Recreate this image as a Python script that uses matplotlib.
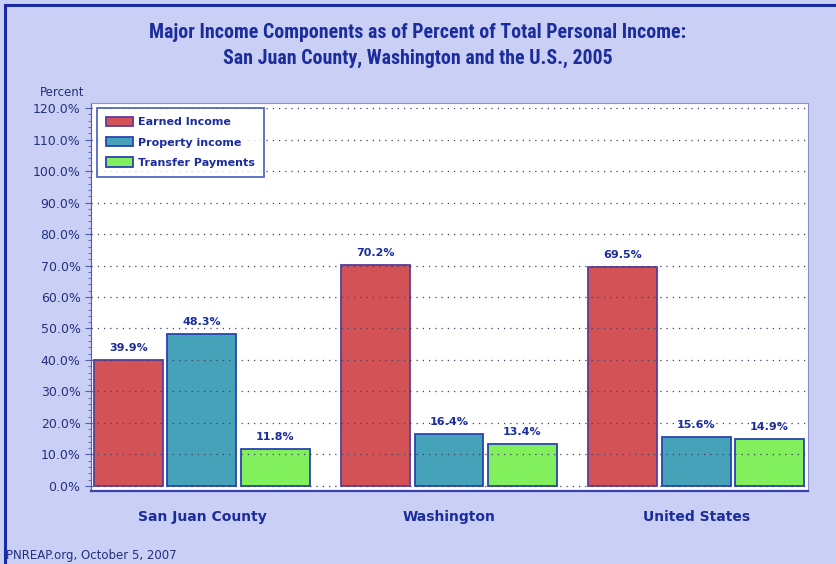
import numpy as np
import matplotlib.pyplot as plt
from matplotlib.lines import Line2D
from matplotlib.ticker import MultipleLocator, FuncFormatter

# data
regions = ["San Juan County", "Washington", "United States"]
series_names = ["Earned Income", "Property income", "Transfer Payments"]
earned = [39.9, 70.2, 69.5]
property_inc = [48.3, 16.4, 15.6]
transfer = [11.8, 13.4, 14.9]

bg = "#c9cff5"
navy = "#1b2c9c"
fills = ["#d35256", "#45a2b8", "#82ef5c"]
edges = ["#5a3c9c", "#2a44b0", "#2a44b0"]
narrow = ["Roboto Condensed", "Liberation Sans Narrow", "DejaVu Sans Condensed", "Roboto", "DejaVu Sans"]

fig = plt.figure(figsize=(8.36, 5.64), dpi=100, facecolor=bg)
ax = fig.add_axes([91/836, 1-491/564, (808-91)/836, (491-103)/564])
ax.set_facecolor("white")

x = np.arange(len(regions))
w = 0.279
step = 0.296
for i, vals in enumerate([earned, property_inc, transfer]):
    pos = x + (i - 1) * step
    ax.bar(pos, vals, width=w, color=fills[i], edgecolor=edges[i],
           linewidth=1.3, label=series_names[i], zorder=2)
    for p, v in zip(pos, vals):
        ax.annotate(f"{v:.1f}%", (p, v), xytext=(0, 5), textcoords="offset points",
                    ha="center", va="bottom", fontsize=8, fontweight="bold",
                    color=navy, zorder=4)

ax.set_xlim(-0.449, 2.453)
ax.set_ylim(-1.6, 121.6)
ax.yaxis.set_major_locator(MultipleLocator(10))
ax.yaxis.set_minor_locator(MultipleLocator(2))
ax.yaxis.set_major_formatter(FuncFormatter(lambda v, p: f"{v:.1f}%"))
ax.tick_params(axis="y", which="major", length=4, color="#5060b0",
               labelsize=9, labelcolor="#24307a")
ax.tick_params(axis="y", which="minor", length=2, color="#5060b0")
ax.set_xticks(x)
ax.set_xticklabels(regions, fontsize=10, fontweight="bold", color=navy)
ax.tick_params(axis="x", length=0, pad=14)

ax.grid(axis="y", linestyle=(0, (1, 4)), color="#404060", linewidth=0.9, zorder=3)
ax.set_axisbelow(False)

for s in ["top", "right"]:
    ax.spines[s].set_color("#8a90c8")
ax.spines["left"].set_color("#5060b0")
ax.spines["bottom"].set_color("#3a44b0")
ax.spines["bottom"].set_linewidth(1.6)

leg = ax.legend(loc="upper left", bbox_to_anchor=(0.0084, 0.987), borderaxespad=0,
                fontsize=8, frameon=True, fancybox=False, handlelength=2.4,
                handleheight=0.9, borderpad=0.8, labelspacing=0.88, handletextpad=0.5)
leg.get_frame().set_edgecolor("#2a44b0")
leg.get_frame().set_linewidth(1.3)
for t in leg.get_texts():
    t.set_color(navy)
    t.set_fontweight("bold")

fig.text(0.5, 1-32/564, "Major Income Components as of Percent of Total Personal Income:",
         ha="center", va="center", fontsize=14.3, fontweight="bold", color=navy,
         family=narrow)
fig.text(0.5, 1-58/564, "San Juan County, Washington and the U.S., 2005",
         ha="center", va="center", fontsize=14.3, fontweight="bold", color=navy,
         family=narrow)
fig.text(84/836, 1-93/564, "Percent", ha="right", va="center", fontsize=8.5, color="#24307a")
fig.text(6/836, 1-556/564, "PNREAP.org, October 5, 2007", ha="left", va="center",
         fontsize=8.5, color="#24307a")

# outer frame, left and top edges
fig.add_artist(Line2D([5/836, 5/836], [0, 1-5/564], color="#1a2aa0", linewidth=2.2,
                      transform=fig.transFigure))
fig.add_artist(Line2D([5/836, 1], [1-5/564, 1-5/564], color="#1a2aa0", linewidth=2.2,
                      transform=fig.transFigure))

fig.savefig("out.png", dpi=100, facecolor=bg)
